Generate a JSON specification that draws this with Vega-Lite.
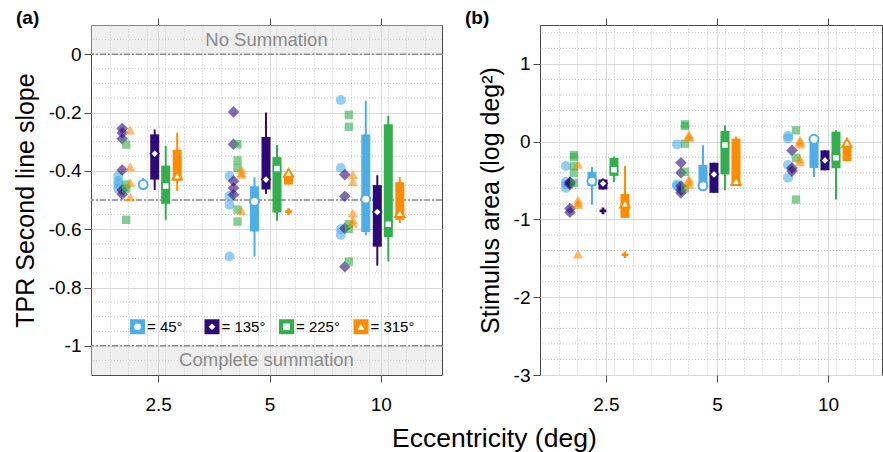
{
  "$schema": "https://vega.github.io/schema/vega-lite/v6.json",
  "background": "white",
  "padding": {"left": 12, "top": 8, "right": 0, "bottom": 2},
  "bounds": "flush",
  "spacing": 98,
  "title": {"text": "Eccentricity (deg)", "orient": "bottom", "anchor": "start", "frame": "group", "dx": 301, "fontSize": 26.5, "fontWeight": "normal", "offset": 11},
  "datasets": {
    "bands": [
      {"lo": 0, "hi": 0.1, "mid": 0.05, "label": "No Summation"},
      {"lo": -1.1, "hi": -1, "mid": -1.05, "label": "Complete summation"}
    ],
    "refs": [{"y": 0}, {"y": -0.5}, {"y": -1}],
    "gridA": [{"g": 0.05}, {"g": -0.05}, {"g": -0.1}, {"g": -0.15}, {"g": -0.25}, {"g": -0.3}, {"g": -0.35}, {"g": -0.45}, {"g": -0.5}, {"g": -0.55}, {"g": -0.65}, {"g": -0.7}, {"g": -0.75}, {"g": -0.85}, {"g": -0.9}, {"g": -0.95}, {"g": -1.05}],
    "gridB": [{"g": 1.4}, {"g": 1.2}, {"g": 0.8}, {"g": 0.6}, {"g": 0.4}, {"g": 0.2}, {"g": -0.2}, {"g": -0.4}, {"g": -0.6}, {"g": -0.8}, {"g": -1.2}, {"g": -1.4}, {"g": -1.6}, {"g": -1.8}, {"g": -2.2}, {"g": -2.4}, {"g": -2.6}, {"g": -2.8}],
    "ptsA": [
      {"ecc": 2.5, "ori": 45, "v": -0.418}, {"ecc": 2.5, "ori": 45, "v": -0.435}, {"ecc": 2.5, "ori": 45, "v": -0.447}, {"ecc": 2.5, "ori": 45, "v": -0.461},
      {"ecc": 2.5, "ori": 135, "v": -0.255}, {"ecc": 2.5, "ori": 135, "v": -0.27}, {"ecc": 2.5, "ori": 135, "v": -0.29}, {"ecc": 2.5, "ori": 135, "v": -0.397}, {"ecc": 2.5, "ori": 135, "v": -0.466}, {"ecc": 2.5, "ori": 135, "v": -0.48},
      {"ecc": 2.5, "ori": 225, "v": -0.31}, {"ecc": 2.5, "ori": 225, "v": -0.447}, {"ecc": 2.5, "ori": 225, "v": -0.461}, {"ecc": 2.5, "ori": 225, "v": -0.568},
      {"ecc": 2.5, "ori": 315, "v": -0.26}, {"ecc": 2.5, "ori": 315, "v": -0.386}, {"ecc": 2.5, "ori": 315, "v": -0.441}, {"ecc": 2.5, "ori": 315, "v": -0.49},
      {"ecc": 5, "ori": 45, "v": -0.418}, {"ecc": 5, "ori": 45, "v": -0.486}, {"ecc": 5, "ori": 45, "v": -0.516}, {"ecc": 5, "ori": 45, "v": -0.694},
      {"ecc": 5, "ori": 135, "v": -0.198}, {"ecc": 5, "ori": 135, "v": -0.309}, {"ecc": 5, "ori": 135, "v": -0.435}, {"ecc": 5, "ori": 135, "v": -0.459}, {"ecc": 5, "ori": 135, "v": -0.482},
      {"ecc": 5, "ori": 225, "v": -0.309}, {"ecc": 5, "ori": 225, "v": -0.364}, {"ecc": 5, "ori": 225, "v": -0.39}, {"ecc": 5, "ori": 225, "v": -0.533}, {"ecc": 5, "ori": 225, "v": -0.574},
      {"ecc": 5, "ori": 315, "v": -0.395}, {"ecc": 5, "ori": 315, "v": -0.407}, {"ecc": 5, "ori": 315, "v": -0.412}, {"ecc": 5, "ori": 315, "v": -0.537},
      {"ecc": 10, "ori": 45, "v": -0.157}, {"ecc": 10, "ori": 45, "v": -0.39}, {"ecc": 10, "ori": 45, "v": -0.6}, {"ecc": 10, "ori": 45, "v": -0.62},
      {"ecc": 10, "ori": 135, "v": -0.413}, {"ecc": 10, "ori": 135, "v": -0.487}, {"ecc": 10, "ori": 135, "v": -0.597}, {"ecc": 10, "ori": 135, "v": -0.729},
      {"ecc": 10, "ori": 225, "v": -0.208}, {"ecc": 10, "ori": 225, "v": -0.249}, {"ecc": 10, "ori": 225, "v": -0.583}, {"ecc": 10, "ori": 225, "v": -0.599}, {"ecc": 10, "ori": 225, "v": -0.711},
      {"ecc": 10, "ori": 315, "v": -0.413}, {"ecc": 10, "ori": 315, "v": -0.438}, {"ecc": 10, "ori": 315, "v": -0.545}, {"ecc": 10, "ori": 315, "v": -0.568}, {"ecc": 10, "ori": 315, "v": -0.58}
    ],
    "boxA": [
      {"ecc": 2.5, "ori": 45, "lo": -0.46, "q1": -0.455, "med": -0.447, "q3": -0.435, "hi": -0.425},
      {"ecc": 2.5, "ori": 135, "lo": -0.466, "q1": -0.43, "med": -0.341, "q3": -0.275, "hi": -0.258},
      {"ecc": 2.5, "ori": 225, "lo": -0.568, "q1": -0.513, "med": -0.452, "q3": -0.382, "hi": -0.315},
      {"ecc": 2.5, "ori": 315, "lo": -0.469, "q1": -0.434, "med": -0.416, "q3": -0.328, "hi": -0.269},
      {"ecc": 5, "ori": 45, "lo": -0.694, "q1": -0.608, "med": -0.505, "q3": -0.453, "hi": -0.422},
      {"ecc": 5, "ori": 135, "lo": -0.479, "q1": -0.464, "med": -0.43, "q3": -0.284, "hi": -0.2},
      {"ecc": 5, "ori": 225, "lo": -0.571, "q1": -0.543, "med": -0.392, "q3": -0.353, "hi": -0.311},
      {"ecc": 5, "ori": 315, "lo": -0.447, "q1": -0.447, "med": -0.407, "q3": -0.41, "hi": -0.41},
      {"ecc": 10, "ori": 45, "lo": -0.62, "q1": -0.61, "med": -0.497, "q3": -0.275, "hi": -0.16},
      {"ecc": 10, "ori": 135, "lo": -0.725, "q1": -0.66, "med": -0.541, "q3": -0.449, "hi": -0.415},
      {"ecc": 10, "ori": 225, "lo": -0.711, "q1": -0.628, "med": -0.583, "q3": -0.24, "hi": -0.211},
      {"ecc": 10, "ori": 315, "lo": -0.579, "q1": -0.568, "med": -0.545, "q3": -0.439, "hi": -0.422}
    ],
    "outA": [{"ecc": 5, "ori": 315, "v": -0.54}],
    "ptsB": [
      {"ecc": 2.5, "ori": 45, "v": -0.314}, {"ecc": 2.5, "ori": 45, "v": -0.52}, {"ecc": 2.5, "ori": 45, "v": -0.55}, {"ecc": 2.5, "ori": 45, "v": -0.594},
      {"ecc": 2.5, "ori": 135, "v": -0.52}, {"ecc": 2.5, "ori": 135, "v": -0.53}, {"ecc": 2.5, "ori": 135, "v": -0.55}, {"ecc": 2.5, "ori": 135, "v": -0.86}, {"ecc": 2.5, "ori": 135, "v": -0.907},
      {"ecc": 2.5, "ori": 225, "v": -0.172}, {"ecc": 2.5, "ori": 225, "v": -0.197}, {"ecc": 2.5, "ori": 225, "v": -0.314}, {"ecc": 2.5, "ori": 225, "v": -0.4}, {"ecc": 2.5, "ori": 225, "v": -0.529},
      {"ecc": 2.5, "ori": 315, "v": -0.292}, {"ecc": 2.5, "ori": 315, "v": -0.75}, {"ecc": 2.5, "ori": 315, "v": -0.787}, {"ecc": 2.5, "ori": 315, "v": -0.809}, {"ecc": 2.5, "ori": 315, "v": -1.445},
      {"ecc": 5, "ori": 45, "v": -0.035}, {"ecc": 5, "ori": 45, "v": -0.55}, {"ecc": 5, "ori": 45, "v": -0.572},
      {"ecc": 5, "ori": 135, "v": -0.271}, {"ecc": 5, "ori": 135, "v": -0.4}, {"ecc": 5, "ori": 135, "v": -0.57}, {"ecc": 5, "ori": 135, "v": -0.62}, {"ecc": 5, "ori": 135, "v": -0.658},
      {"ecc": 5, "ori": 225, "v": 0.202}, {"ecc": 5, "ori": 225, "v": 0.223}, {"ecc": 5, "ori": 225, "v": -0.026}, {"ecc": 5, "ori": 225, "v": -0.387}, {"ecc": 5, "ori": 225, "v": -0.6},
      {"ecc": 5, "ori": 315, "v": 0.052}, {"ecc": 5, "ori": 315, "v": 0.07}, {"ecc": 5, "ori": 315, "v": 0.09}, {"ecc": 5, "ori": 315, "v": -0.48}, {"ecc": 5, "ori": 315, "v": -0.507}, {"ecc": 5, "ori": 315, "v": -0.55},
      {"ecc": 10, "ori": 45, "v": 0.073}, {"ecc": 10, "ori": 45, "v": 0.04}, {"ecc": 10, "ori": 45, "v": -0.3}, {"ecc": 10, "ori": 45, "v": -0.465},
      {"ecc": 10, "ori": 135, "v": -0.112}, {"ecc": 10, "ori": 135, "v": -0.34}, {"ecc": 10, "ori": 135, "v": -0.378},
      {"ecc": 10, "ori": 225, "v": 0.146}, {"ecc": 10, "ori": 225, "v": -0.206}, {"ecc": 10, "ori": 225, "v": -0.744},
      {"ecc": 10, "ori": 315, "v": -0.004}, {"ecc": 10, "ori": 315, "v": -0.03}, {"ecc": 10, "ori": 315, "v": 0.02}, {"ecc": 10, "ori": 315, "v": -0.22}, {"ecc": 10, "ori": 315, "v": -0.258}
    ],
    "boxB": [
      {"ecc": 2.5, "ori": 45, "lo": -0.809, "q1": -0.57, "med": -0.507, "q3": -0.387, "hi": -0.327},
      {"ecc": 2.5, "ori": 135, "lo": -0.615, "q1": -0.615, "med": -0.538, "q3": -0.486, "hi": -0.486},
      {"ecc": 2.5, "ori": 225, "lo": -0.52, "q1": -0.44, "med": -0.36, "q3": -0.21, "hi": -0.19},
      {"ecc": 2.5, "ori": 315, "lo": -0.98, "q1": -0.98, "med": -0.796, "q3": -0.671, "hi": -0.314},
      {"ecc": 5, "ori": 45, "lo": -0.594, "q1": -0.594, "med": -0.568, "q3": -0.3, "hi": -0.047},
      {"ecc": 5, "ori": 135, "lo": -0.658, "q1": -0.658, "med": -0.421, "q3": -0.271, "hi": -0.271},
      {"ecc": 5, "ori": 225, "lo": -0.624, "q1": -0.421, "med": -0.043, "q3": 0.138, "hi": 0.21},
      {"ecc": 5, "ori": 315, "lo": -0.538, "q1": -0.538, "med": -0.507, "q3": 0.04, "hi": 0.065},
      {"ecc": 10, "ori": 45, "lo": -0.455, "q1": -0.338, "med": 0.03, "q3": 0.05, "hi": 0.05},
      {"ecc": 10, "ori": 135, "lo": -0.368, "q1": -0.368, "med": -0.241, "q3": -0.112, "hi": -0.112},
      {"ecc": 10, "ori": 225, "lo": -0.744, "q1": -0.342, "med": -0.206, "q3": 0.129, "hi": 0.146},
      {"ecc": 10, "ori": 315, "lo": -0.25, "q1": -0.25, "med": -0.013, "q3": -0.05, "hi": 0.0}
    ],
    "outB": [{"ecc": 2.5, "ori": 135, "v": -0.89}, {"ecc": 2.5, "ori": 315, "v": -1.454}]
  },
  "hconcat": [
    {
      "width": 351,
      "height": 350,
      "title": {"text": "(a)", "anchor": "start", "frame": "group", "fontSize": 19, "fontWeight": "bold", "dx": -75, "offset": -10},
      "resolve": {"axis": {"x": "independent"}},
      "layer": [
        {
          "data": {"name": "gridA"},
          "mark": {"type": "rule", "color": "#c4c4c4", "strokeWidth": 1, "strokeDash": [1, 2]},
          "encoding": {
            "y": {"field": "g", "type": "quantitative", "scale": {"domain": [-1.1, 0.1], "nice": false, "zero": false},
              "axis": {"title": "TPR Second line slope", "titleFontSize": 25, "titleFontWeight": "normal", "titlePadding": 10, "domain": false, "labelFontSize": 19, "labelPadding": 3, "labelFlush": false, "tickSize": 7,
                "values": [0, -0.2, -0.4, -0.6, -0.8, -1], "labelExpr": "toString(datum.value)", "gridColor": "#d9d9d9"}}
          }
        },
        {
          "data": {"name": "bands"},
          "mark": {"type": "rect", "fill": "#d6d6d6", "opacity": 0.4},
          "encoding": {
            "y": {"field": "lo", "type": "quantitative", "scale": {"domain": [-1.1, 0.1], "nice": false, "zero": false}},
            "y2": {"field": "hi"}
          }
        },
        {
          "data": {"name": "bands"},
          "mark": {"type": "text", "fontSize": 18.5, "color": "#8a8a8a", "baseline": "middle"},
          "encoding": {
            "y": {"field": "mid", "type": "quantitative", "scale": {"domain": [-1.1, 0.1], "nice": false, "zero": false}},
            "text": {"field": "label"}
          }
        },
        {
          "data": {"name": "refs"},
          "mark": {"type": "rule", "color": "#8c8c8c", "strokeWidth": 1.5, "strokeDash": [6, 2, 2, 2]},
          "encoding": {
            "y": {"field": "y", "type": "quantitative", "scale": {"domain": [-1.1, 0.1], "nice": false, "zero": false}}
          }
        },
        {
          "encoding": {
            "x": {"field": "ecc", "type": "quantitative", "scale": {"type": "log", "domain": [1.645, 14.64], "nice": false},
              "axis": {"orient": "bottom", "title": null, "domain": false, "labelFontSize": 19, "labelPadding": 13, "labelOverlap": false, "labelFlush": false, "tickSize": 7,
                "values": [1.8465, 2.0726, 2.3264, 2.5, 2.6113, 2.9311, 3.29, 3.6929, 4.1452, 4.6528, 5, 5.2226, 5.8622, 6.58, 7.3858, 8.2903, 9.3056, 10, 10.445, 11.724, 13.16],
                "labelExpr": "(datum.value==2.5||datum.value==5||datum.value==10) ? toString(datum.value) : ''",
                "tickOpacity": {"condition": {"test": "datum.value==2.5||datum.value==5||datum.value==10", "value": 1}, "value": 0},
                "gridDash": {"condition": {"test": "datum.value==2.5||datum.value==5||datum.value==10", "value": []}, "value": [1, 2]},
                "gridColor": {"condition": {"test": "datum.value==2.5||datum.value==5||datum.value==10", "value": "#d9d9d9"}, "value": "#c4c4c4"}}},
            "color": {"field": "ori", "type": "nominal", "scale": {"domain": [45, 135, 225, 315], "range": ["#4DAEE8", "#2E0A78", "#33AE4E", "#FF8C00"]},
              "legend": {"title": null, "orient": "none", "legendX": 39, "legendY": 294, "direction": "horizontal", "columns": 4, "gridAlign": "all", "padding": 0,
                "symbolType": "square", "symbolSize": 225, "symbolStrokeWidth": 0, "symbolOpacity": 1,
                "labelFontSize": 15, "labelOffset": 2, "columnPadding": 13.5, "labelExpr": "'= ' + datum.label + '°'",
                "encode": {"symbols": {"update": {"fill": {"scale": "color", "field": "value"}, "opacity": {"value": 1}, "fillOpacity": {"value": 1}}}}}}
          },
          "layer": [
            {"data": {"name": "ptsA"}, "transform": [{"filter": "datum.ori == 45"}], "mark": {"type": "point", "filled": true, "size": 100, "opacity": 0.6, "xOffset": -40},
             "encoding": {"y": {"field": "v", "type": "quantitative", "scale": {"domain": [-1.1, 0.1], "nice": false, "zero": false}},
               "shape": {"field": "ori", "type": "nominal", "scale": {"range": ["circle", "diamond", "square", "triangle-up"]},
                 "legend": {"title": null, "orient": "none", "legendX": 39, "legendY": 294, "direction": "horizontal", "columns": 4, "gridAlign": "all", "padding": 0,
                   "symbolSize": 45, "symbolStrokeWidth": 0, "symbolFillColor": "white", "symbolStrokeColor": "white", "symbolOpacity": 1,
                   "labelFontSize": 15, "labelOffset": 2, "labelOpacity": 0, "columnPadding": 13.5, "labelExpr": "'= ' + datum.label + '°'",
                   "encode": {"symbols": {"update": {"fill": {"value": "white"}, "stroke": {"value": "white"}, "opacity": {"value": 1}, "fillOpacity": {"value": 1}}}}}}}},
            {"data": {"name": "ptsA"}, "transform": [{"filter": "datum.ori == 135"}], "mark": {"type": "point", "filled": true, "size": 135, "opacity": 0.6, "xOffset": -36},
             "encoding": {"y": {"field": "v", "type": "quantitative", "scale": {"domain": [-1.1, 0.1], "nice": false, "zero": false}},
               "shape": {"field": "ori", "type": "nominal", "scale": {"range": ["circle", "diamond", "square", "triangle-up"]}}}},
            {"data": {"name": "ptsA"}, "transform": [{"filter": "datum.ori == 225"}], "mark": {"type": "point", "filled": true, "size": 70, "opacity": 0.6, "xOffset": -32},
             "encoding": {"y": {"field": "v", "type": "quantitative", "scale": {"domain": [-1.1, 0.1], "nice": false, "zero": false}},
               "shape": {"field": "ori", "type": "nominal", "scale": {"range": ["circle", "diamond", "square", "triangle-up"]}}}},
            {"data": {"name": "ptsA"}, "transform": [{"filter": "datum.ori == 315"}], "mark": {"type": "point", "filled": true, "size": 105, "opacity": 0.6, "xOffset": -28},
             "encoding": {"y": {"field": "v", "type": "quantitative", "scale": {"domain": [-1.1, 0.1], "nice": false, "zero": false}},
               "shape": {"field": "ori", "type": "nominal", "scale": {"range": ["circle", "diamond", "square", "triangle-up"]}}}},
            {"data": {"name": "boxA"}, "transform": [{"filter": "datum.ori == 45"}],
             "layer": [
               {"mark": {"type": "rule", "strokeWidth": 2, "xOffset": -15}, "encoding": {"y": {"field": "lo", "type": "quantitative", "scale": {"domain": [-1.1, 0.1], "nice": false, "zero": false}}, "y2": {"field": "hi"}}},
               {"mark": {"type": "rule", "strokeWidth": 9, "strokeCap": "butt", "xOffset": -15}, "encoding": {"y": {"field": "q1", "type": "quantitative", "scale": {"domain": [-1.1, 0.1], "nice": false, "zero": false}}, "y2": {"field": "q3"}}},
               {"mark": {"type": "point", "filled": false, "fill": "white", "strokeWidth": 2, "size": 80, "opacity": 1, "xOffset": -15}, "encoding": {"y": {"field": "med", "type": "quantitative", "scale": {"domain": [-1.1, 0.1], "nice": false, "zero": false}}, "shape": {"field": "ori", "type": "nominal", "scale": {"range": ["circle", "diamond", "square", "triangle-up"]}}}}
             ]},
            {"data": {"name": "boxA"}, "transform": [{"filter": "datum.ori == 135"}],
             "layer": [
               {"mark": {"type": "rule", "strokeWidth": 2, "xOffset": -3.5}, "encoding": {"y": {"field": "lo", "type": "quantitative", "scale": {"domain": [-1.1, 0.1], "nice": false, "zero": false}}, "y2": {"field": "hi"}}},
               {"mark": {"type": "rule", "strokeWidth": 9, "strokeCap": "butt", "xOffset": -3.5}, "encoding": {"y": {"field": "q1", "type": "quantitative", "scale": {"domain": [-1.1, 0.1], "nice": false, "zero": false}}, "y2": {"field": "q3"}}},
               {"mark": {"type": "point", "filled": false, "fill": "white", "strokeWidth": 1.5, "size": 75, "opacity": 1, "xOffset": -3.5}, "encoding": {"y": {"field": "med", "type": "quantitative", "scale": {"domain": [-1.1, 0.1], "nice": false, "zero": false}}, "shape": {"field": "ori", "type": "nominal", "scale": {"range": ["circle", "diamond", "square", "triangle-up"]}}}}
             ]},
            {"data": {"name": "boxA"}, "transform": [{"filter": "datum.ori == 225"}],
             "layer": [
               {"mark": {"type": "rule", "strokeWidth": 2, "xOffset": 7.5}, "encoding": {"y": {"field": "lo", "type": "quantitative", "scale": {"domain": [-1.1, 0.1], "nice": false, "zero": false}}, "y2": {"field": "hi"}}},
               {"mark": {"type": "rule", "strokeWidth": 9, "strokeCap": "butt", "xOffset": 7.5}, "encoding": {"y": {"field": "q1", "type": "quantitative", "scale": {"domain": [-1.1, 0.1], "nice": false, "zero": false}}, "y2": {"field": "q3"}}},
               {"mark": {"type": "point", "filled": false, "fill": "white", "strokeWidth": 1.5, "size": 50, "opacity": 1, "xOffset": 7.5}, "encoding": {"y": {"field": "med", "type": "quantitative", "scale": {"domain": [-1.1, 0.1], "nice": false, "zero": false}}, "shape": {"field": "ori", "type": "nominal", "scale": {"range": ["circle", "diamond", "square", "triangle-up"]}}}}
             ]},
            {"data": {"name": "boxA"}, "transform": [{"filter": "datum.ori == 315"}],
             "layer": [
               {"mark": {"type": "rule", "strokeWidth": 2, "xOffset": 19}, "encoding": {"y": {"field": "lo", "type": "quantitative", "scale": {"domain": [-1.1, 0.1], "nice": false, "zero": false}}, "y2": {"field": "hi"}}},
               {"mark": {"type": "rule", "strokeWidth": 9, "strokeCap": "butt", "xOffset": 19}, "encoding": {"y": {"field": "q1", "type": "quantitative", "scale": {"domain": [-1.1, 0.1], "nice": false, "zero": false}}, "y2": {"field": "q3"}}},
               {"mark": {"type": "point", "filled": false, "fill": "white", "strokeWidth": 2, "size": 85, "opacity": 1, "xOffset": 19}, "encoding": {"y": {"field": "med", "type": "quantitative", "scale": {"domain": [-1.1, 0.1], "nice": false, "zero": false}}, "shape": {"field": "ori", "type": "nominal", "scale": {"range": ["circle", "diamond", "square", "triangle-up"]}}}}
             ]}
          ]
        },
        {
          "data": {"name": "outA"},
          "mark": {"type": "point", "shape": "cross", "filled": true, "size": 45, "opacity": 1, "xOffset": 19},
          "encoding": {
            "x": {"field": "ecc", "type": "quantitative", "scale": {"type": "log", "domain": [1.645, 14.64], "nice": false}, "axis": {"orient": "top", "title": null, "values": [2.5, 5, 10], "labels": false, "grid": false, "domain": false, "tickSize": 7}},
            "y": {"field": "v", "type": "quantitative", "scale": {"domain": [-1.1, 0.1], "nice": false, "zero": false}},
            "color": {"field": "ori", "type": "nominal", "scale": {"domain": [45, 135, 225, 315], "range": ["#4DAEE8", "#2E0A78", "#33AE4E", "#FF8C00"]}}
          }
        }
      ]
    },
    {
      "width": 342,
      "height": 350,
      "title": {"text": "(b)", "anchor": "start", "frame": "group", "fontSize": 19, "fontWeight": "bold", "dx": -75, "offset": -10},
      "resolve": {"axis": {"x": "independent"}},
      "layer": [
        {
          "data": {"name": "gridB"},
          "mark": {"type": "rule", "color": "#c4c4c4", "strokeWidth": 1, "strokeDash": [1, 2]},
          "encoding": {
            "y": {"field": "g", "type": "quantitative", "scale": {"domain": [-3, 1.5], "nice": false, "zero": false},
              "axis": {"title": "Stimulus area (log deg²)", "titleFontSize": 25, "titleFontWeight": "normal", "titlePadding": 10, "domain": false, "labelFontSize": 19, "labelPadding": 3, "labelFlush": false, "tickSize": 7,
                "values": [1, 0, -1, -2, -3], "labelExpr": "toString(datum.value)", "gridColor": "#d9d9d9"}}
          }
        },
        {
          "encoding": {
            "x": {"field": "ecc", "type": "quantitative", "scale": {"type": "log", "domain": [1.656, 14.01], "nice": false},
              "axis": {"orient": "bottom", "title": null, "domain": false, "labelFontSize": 19, "labelPadding": 13, "labelOverlap": false, "labelFlush": false, "tickSize": 7,
                "values": [1.8588, 2.0865, 2.342, 2.5, 2.6288, 2.9507, 3.312, 3.7176, 4.1729, 4.6839, 5, 5.2576, 5.9014, 6.624, 7.4352, 8.3457, 9.3678, 10, 10.515, 11.803, 13.248],
                "labelExpr": "(datum.value==2.5||datum.value==5||datum.value==10) ? toString(datum.value) : ''",
                "tickOpacity": {"condition": {"test": "datum.value==2.5||datum.value==5||datum.value==10", "value": 1}, "value": 0},
                "gridDash": {"condition": {"test": "datum.value==2.5||datum.value==5||datum.value==10", "value": []}, "value": [1, 2]},
                "gridColor": {"condition": {"test": "datum.value==2.5||datum.value==5||datum.value==10", "value": "#d9d9d9"}, "value": "#c4c4c4"}}},
            "color": {"field": "ori", "type": "nominal", "scale": {"domain": [45, 135, 225, 315], "range": ["#4DAEE8", "#2E0A78", "#33AE4E", "#FF8C00"]}}
          },
          "layer": [
            {"data": {"name": "ptsB"}, "transform": [{"filter": "datum.ori == 45"}], "mark": {"type": "point", "filled": true, "size": 100, "opacity": 0.6, "xOffset": -40},
             "encoding": {"y": {"field": "v", "type": "quantitative", "scale": {"domain": [-3, 1.5], "nice": false, "zero": false}},
               "shape": {"field": "ori", "type": "nominal", "scale": {"range": ["circle", "diamond", "square", "triangle-up"]}}}},
            {"data": {"name": "ptsB"}, "transform": [{"filter": "datum.ori == 135"}], "mark": {"type": "point", "filled": true, "size": 135, "opacity": 0.6, "xOffset": -36},
             "encoding": {"y": {"field": "v", "type": "quantitative", "scale": {"domain": [-3, 1.5], "nice": false, "zero": false}},
               "shape": {"field": "ori", "type": "nominal", "scale": {"range": ["circle", "diamond", "square", "triangle-up"]}}}},
            {"data": {"name": "ptsB"}, "transform": [{"filter": "datum.ori == 225"}], "mark": {"type": "point", "filled": true, "size": 70, "opacity": 0.6, "xOffset": -32},
             "encoding": {"y": {"field": "v", "type": "quantitative", "scale": {"domain": [-3, 1.5], "nice": false, "zero": false}},
               "shape": {"field": "ori", "type": "nominal", "scale": {"range": ["circle", "diamond", "square", "triangle-up"]}}}},
            {"data": {"name": "ptsB"}, "transform": [{"filter": "datum.ori == 315"}], "mark": {"type": "point", "filled": true, "size": 105, "opacity": 0.6, "xOffset": -28},
             "encoding": {"y": {"field": "v", "type": "quantitative", "scale": {"domain": [-3, 1.5], "nice": false, "zero": false}},
               "shape": {"field": "ori", "type": "nominal", "scale": {"range": ["circle", "diamond", "square", "triangle-up"]}}}},
            {"data": {"name": "boxB"}, "transform": [{"filter": "datum.ori == 45"}],
             "layer": [
               {"mark": {"type": "rule", "strokeWidth": 2, "xOffset": -14}, "encoding": {"y": {"field": "lo", "type": "quantitative", "scale": {"domain": [-3, 1.5], "nice": false, "zero": false}}, "y2": {"field": "hi"}}},
               {"mark": {"type": "rule", "strokeWidth": 9, "strokeCap": "butt", "xOffset": -14}, "encoding": {"y": {"field": "q1", "type": "quantitative", "scale": {"domain": [-3, 1.5], "nice": false, "zero": false}}, "y2": {"field": "q3"}}},
               {"mark": {"type": "point", "filled": false, "fill": "white", "strokeWidth": 2, "size": 80, "opacity": 1, "xOffset": -14}, "encoding": {"y": {"field": "med", "type": "quantitative", "scale": {"domain": [-3, 1.5], "nice": false, "zero": false}}, "shape": {"field": "ori", "type": "nominal", "scale": {"range": ["circle", "diamond", "square", "triangle-up"]}}}}
             ]},
            {"data": {"name": "boxB"}, "transform": [{"filter": "datum.ori == 135"}],
             "layer": [
               {"mark": {"type": "rule", "strokeWidth": 2, "xOffset": -3}, "encoding": {"y": {"field": "lo", "type": "quantitative", "scale": {"domain": [-3, 1.5], "nice": false, "zero": false}}, "y2": {"field": "hi"}}},
               {"mark": {"type": "rule", "strokeWidth": 9, "strokeCap": "butt", "xOffset": -3}, "encoding": {"y": {"field": "q1", "type": "quantitative", "scale": {"domain": [-3, 1.5], "nice": false, "zero": false}}, "y2": {"field": "q3"}}},
               {"mark": {"type": "point", "filled": false, "fill": "white", "strokeWidth": 1.5, "size": 75, "opacity": 1, "xOffset": -3}, "encoding": {"y": {"field": "med", "type": "quantitative", "scale": {"domain": [-3, 1.5], "nice": false, "zero": false}}, "shape": {"field": "ori", "type": "nominal", "scale": {"range": ["circle", "diamond", "square", "triangle-up"]}}}}
             ]},
            {"data": {"name": "boxB"}, "transform": [{"filter": "datum.ori == 225"}],
             "layer": [
               {"mark": {"type": "rule", "strokeWidth": 2, "xOffset": 8}, "encoding": {"y": {"field": "lo", "type": "quantitative", "scale": {"domain": [-3, 1.5], "nice": false, "zero": false}}, "y2": {"field": "hi"}}},
               {"mark": {"type": "rule", "strokeWidth": 9, "strokeCap": "butt", "xOffset": 8}, "encoding": {"y": {"field": "q1", "type": "quantitative", "scale": {"domain": [-3, 1.5], "nice": false, "zero": false}}, "y2": {"field": "q3"}}},
               {"mark": {"type": "point", "filled": false, "fill": "white", "strokeWidth": 1.5, "size": 50, "opacity": 1, "xOffset": 8}, "encoding": {"y": {"field": "med", "type": "quantitative", "scale": {"domain": [-3, 1.5], "nice": false, "zero": false}}, "shape": {"field": "ori", "type": "nominal", "scale": {"range": ["circle", "diamond", "square", "triangle-up"]}}}}
             ]},
            {"data": {"name": "boxB"}, "transform": [{"filter": "datum.ori == 315"}],
             "layer": [
               {"mark": {"type": "rule", "strokeWidth": 2, "xOffset": 19}, "encoding": {"y": {"field": "lo", "type": "quantitative", "scale": {"domain": [-3, 1.5], "nice": false, "zero": false}}, "y2": {"field": "hi"}}},
               {"mark": {"type": "rule", "strokeWidth": 9, "strokeCap": "butt", "xOffset": 19}, "encoding": {"y": {"field": "q1", "type": "quantitative", "scale": {"domain": [-3, 1.5], "nice": false, "zero": false}}, "y2": {"field": "q3"}}},
               {"mark": {"type": "point", "filled": false, "fill": "white", "strokeWidth": 2, "size": 85, "opacity": 1, "xOffset": 19}, "encoding": {"y": {"field": "med", "type": "quantitative", "scale": {"domain": [-3, 1.5], "nice": false, "zero": false}}, "shape": {"field": "ori", "type": "nominal", "scale": {"range": ["circle", "diamond", "square", "triangle-up"]}}}}
             ]}
          ]
        },
        {
          "data": {"name": "outB"},
          "transform": [{"filter": "datum.ori == 135"}],
          "mark": {"type": "point", "shape": "cross", "filled": true, "size": 45, "opacity": 1, "xOffset": -3},
          "encoding": {
            "x": {"field": "ecc", "type": "quantitative", "scale": {"type": "log", "domain": [1.656, 14.01], "nice": false}, "axis": {"orient": "top", "title": null, "values": [2.5, 5, 10], "labels": false, "grid": false, "domain": false, "tickSize": 7}},
            "y": {"field": "v", "type": "quantitative", "scale": {"domain": [-3, 1.5], "nice": false, "zero": false}},
            "color": {"field": "ori", "type": "nominal", "scale": {"domain": [45, 135, 225, 315], "range": ["#4DAEE8", "#2E0A78", "#33AE4E", "#FF8C00"]}}
          }
        },
        {
          "data": {"name": "outB"},
          "transform": [{"filter": "datum.ori == 315"}],
          "mark": {"type": "point", "shape": "cross", "filled": true, "size": 45, "opacity": 1, "xOffset": 19},
          "encoding": {
            "x": {"field": "ecc", "type": "quantitative", "scale": {"type": "log", "domain": [1.656, 14.01], "nice": false}, "axis": null},
            "y": {"field": "v", "type": "quantitative", "scale": {"domain": [-3, 1.5], "nice": false, "zero": false}},
            "color": {"field": "ori", "type": "nominal", "scale": {"domain": [45, 135, 225, 315], "range": ["#4DAEE8", "#2E0A78", "#33AE4E", "#FF8C00"]}}
          }
        }
      ]
    }
  ],
  "config": {
    "font": "Liberation Sans",
    "view": {"stroke": "#4a4a4a", "strokeWidth": 1},
    "axis": {"tickColor": "#4a4a4a", "labelColor": "#000000", "titleColor": "#000000", "gridWidth": 1},
    "title": {"color": "#000000"}
  }
}
